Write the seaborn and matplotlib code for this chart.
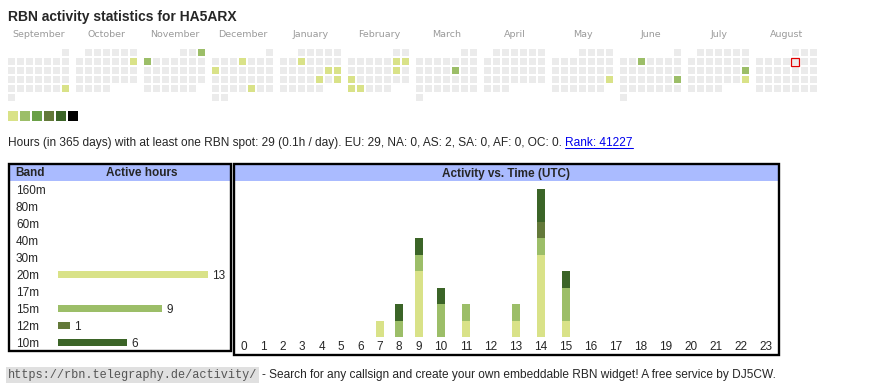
import calendar
import datetime as dt

import matplotlib
matplotlib.use("Agg")
import matplotlib.pyplot as plt
from matplotlib.colors import ListedColormap
from matplotlib.patches import Rectangle
import numpy as np
import seaborn as sns

W, H = 870, 390

# ---- data ----
callsign = "HA5ARX"
today = dt.date(2025, 8, 8)

active_days = ["2024-09-29", "2024-10-13", "2024-11-03", "2024-11-04",
               "2024-12-05", "2024-12-09", "2024-12-27",
               "2025-01-08", "2025-01-18", "2025-01-19", "2025-01-24", "2025-01-26",
               "2025-02-08", "2025-02-09", "2025-02-15", "2025-02-17", "2025-02-24", "2025-02-25",
               "2025-03-14", "2025-05-25", "2025-06-04", "2025-06-22", "2025-07-20", "2025-07-27"]
active_levels = [1, 1, 2, 2,
                 1, 1, 1,
                 1, 1, 1, 1, 1,
                 1, 1, 1, 1, 1, 1,
                 2, 1, 2, 2, 2, 1]

level_colors = ["#ebebeb", "#d9e288", "#9cbe68", "#6aa047", "#637939", "#3b6427", "#000000"]

bands = ["160m", "80m", "60m", "40m", "30m", "20m", "17m", "15m", "12m", "10m"]
band_hours = [0, 0, 0, 0, 0, 13, 0, 9, 1, 6]
band_colors = ["#bbbbbb", "#bbbbbb", "#bbbbbb", "#bbbbbb", "#bbbbbb",
               "#d9e288", "#bbbbbb", "#9cbe68", "#637939", "#3b6427"]

hours = list(range(24))
hrs_20m = [0, 0, 0, 0, 0, 0, 0, 1, 0, 4, 0, 1, 0, 1, 5, 1, 0, 0, 0, 0, 0, 0, 0, 0]
hrs_15m = [0, 0, 0, 0, 0, 0, 0, 0, 1, 1, 2, 1, 0, 1, 1, 2, 0, 0, 0, 0, 0, 0, 0, 0]
hrs_12m = [0, 0, 0, 0, 0, 0, 0, 0, 0, 0, 0, 0, 0, 0, 1, 0, 0, 0, 0, 0, 0, 0, 0, 0]
hrs_10m = [0, 0, 0, 0, 0, 0, 0, 0, 1, 1, 1, 0, 0, 0, 2, 1, 0, 0, 0, 0, 0, 0, 0, 0]

stats_text = ("Hours (in 365 days) with at least one RBN spot: 29 (0.1h / day). "
              "EU: 29, NA: 0, AS: 2, SA: 0, AF: 0, OC: 0.")
rank_text = "Rank: 41227"

sns.set_style("white")
plt.rcParams["font.family"] = ["Liberation Sans", "DejaVu Sans"]

fig = plt.figure(figsize=(W / 100, H / 100), dpi=100)


def px_axes(x0, y0, x1, y1):
    return fig.add_axes([x0 / W, 1 - y1 / H, (x1 - x0) / W, (y1 - y0) / H])


# background layer in pixel coordinates for text and table frames
bg = fig.add_axes([0, 0, 1, 1])
bg.set_xlim(0, W)
bg.set_ylim(H, 0)
bg.axis("off")

bg.text(8, 21, f"RBN activity statistics for {callsign}", fontsize=10,
        fontweight="bold", va="baseline")

# ---- calendar ----
cmap = ListedColormap(level_colors)
level_by_date = {dt.date.fromisoformat(d): lv for d, lv in zip(active_days, active_levels)}

for m in range(12):
    year, month = 2024 + (8 + m) // 12, (8 + m) % 12 + 1
    offset, ndays = calendar.monthrange(year, month)
    grid = np.full((6, 7), np.nan)
    today_cell = None
    for d in range(1, ndays + 1):
        k = d - 1 + offset
        day = dt.date(year, month, d)
        grid[k // 7, k % 7] = level_by_date.get(day, 0)
        if day == today:
            today_cell = (k % 7, k // 7)
    bx = 8 + 68 * m
    ax = px_axes(bx - 1, 48, bx + 62, 102)
    sns.heatmap(grid, ax=ax, cmap=cmap, vmin=-0.5, vmax=6.5, cbar=False,
                linewidths=1.44, linecolor="white",
                xticklabels=False, yticklabels=False)
    if today_cell:
        c, r = today_cell
        ax.add_patch(Rectangle((c + 0.5 / 9, r + 0.5 / 9), 8 / 9, 8 / 9, fill=False,
                               edgecolor="#e00000", linewidth=0.9, clip_on=False))
    bg.text(bx + 31, 37, calendar.month_name[month], ha="center", va="baseline",
            fontsize=6.8, color="#9a9a9a", family="DejaVu Sans")

# level legend
lax = px_axes(7, 110, 79, 122)
sns.heatmap(np.array([[1, 2, 3, 4, 5, 6]]), ax=lax, cmap=cmap, vmin=-0.5, vmax=6.5,
            cbar=False, linewidths=1.44, linecolor="white",
            xticklabels=False, yticklabels=False)

# ---- stats line ----
t1 = bg.text(8, 146, stats_text, fontsize=8.6, va="baseline")
fig.canvas.draw()
rend = fig.canvas.get_renderer()
x_end = t1.get_window_extent(rend).x1
t2 = bg.text(x_end + 3.3, 146, rank_text, fontsize=8.6, va="baseline", color="#0000ee")
bb2 = t2.get_window_extent(rend)
bg.plot([bb2.x0, bb2.x1], [147.5, 147.5], color="#0000ee", lw=0.75)

# ---- table frames ----
blue = "#aabbff"
bg.add_patch(Rectangle((10, 165), 220, 16, color=blue, lw=0))
bg.add_patch(Rectangle((235, 165), 543, 16, color=blue, lw=0))
bg.add_patch(Rectangle((9.1, 164.1), 221.8, 186.8, fill=False, edgecolor="black", lw=1.7))
bg.add_patch(Rectangle((233.6, 164.1), 545.3, 190.8, fill=False, edgecolor="black", lw=1.7))
bg.text(30, 173.5, "Band", ha="center", va="center", fontsize=8.5, fontweight="bold")
bg.text(141.5, 173.5, "Active hours", ha="center", va="center", fontsize=8.5, fontweight="bold")
bg.text(506, 173.5, "Activity vs. Time (UTC)", ha="center", va="center",
        fontsize=8.5, fontweight="bold")

# ---- band bars ----
px_per_hour = 11.54
bax = px_axes(58, 180.8, 230, 350.8)
bax.patch.set_visible(False)
sns.barplot(x=band_hours, y=bands, hue=bands, order=bands, hue_order=bands,
            palette=band_colors, orient="y", width=7 / 17, saturation=1,
            legend=False, errorbar=None, linewidth=0, ax=bax)
bax.set_xlim(0, (230 - 58) / px_per_hour)
for cont, v in zip(bax.containers, band_hours):
    if v:
        for t in bax.bar_label(cont, labels=[str(v)], padding=3, fontsize=8.5):
            t.set_verticalalignment("center_baseline")
bax.tick_params(axis="y", length=0, pad=42 * 0.72, labelsize=8.5)
for lbl in bax.get_yticklabels():
    lbl.set_horizontalalignment("left")
bax.set_xticks([])
bax.set_xlabel("")
bax.set_ylabel("")
sns.despine(ax=bax, left=True, bottom=True)

# ---- activity vs time ----
# column centres follow the table layout: narrower cells for one-digit hours
col_w = [19.4 if h < 10 else 25.0 for h in hours]
centers = [244.0]
for h in hours[1:]:
    centers.append(centers[-1] + (col_w[h - 1] + col_w[h]) / 2)

unit_px = 16.5
hax = px_axes(235, 182, 777, 337)
hax.patch.set_visible(False)
layers = [hrs_20m, hrs_15m, hrs_12m, hrs_10m]
layer_colors = ["#d9e288", "#9cbe68", "#637939", "#3b6427"]
cum = np.cumsum(np.array(layers), axis=0)
for i in range(3, -1, -1):
    sns.barplot(x=centers, y=cum[i], native_scale=True, orient="x", color=layer_colors[i],
                width=8 / 19.4, saturation=1, errorbar=None, linewidth=0, ax=hax)
hax.set_xlim(235, 777)
hax.set_ylim(0, (337 - 182) / unit_px)
hax.set_xticks(centers, labels=[str(h) for h in hours])
hax.tick_params(axis="x", length=0, pad=3, labelsize=8.5)
hax.set_yticks([])
hax.set_xlabel("")
hax.set_ylabel("")
sns.despine(ax=hax, left=True, bottom=True)

# ---- footer ----
bg.text(8, 378, "https://rbn.telegraphy.de/activity/", family="Liberation Mono",
        fontsize=8.6, color="#555555", va="baseline",
        bbox=dict(facecolor="#e0e0e0", edgecolor="none", pad=1.5))
bg.text(262, 378, "- Search for any callsign and create your own embeddable RBN widget! "
        "A free service by DJ5CW.", fontsize=8.6, va="baseline")

fig.savefig("out.png", dpi=100)
